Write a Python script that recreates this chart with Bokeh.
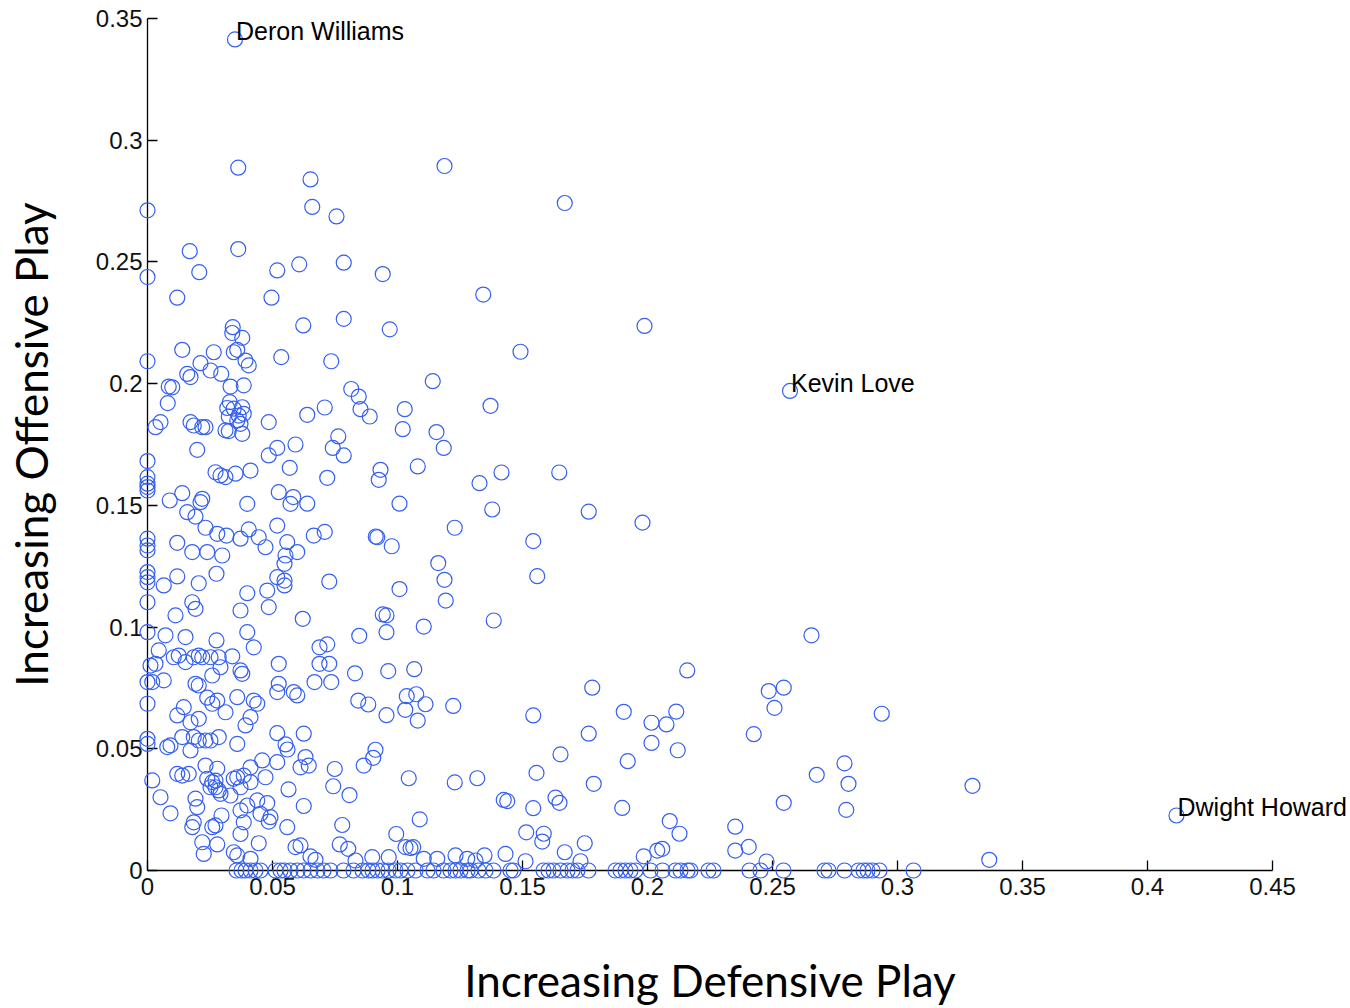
from bokeh.plotting import figure
from bokeh.models import Range1d, FixedTicker
from bokeh.embed import file_html
from bokeh.resources import INLINE
from bokeh.core.properties import value

# ---------------- data (defensive score, offensive score) ----------------
# labelled players
names = ["Deron Williams", "Kevin Love", "Dwight Howard"]
named_defensive = [0.0350, 0.2570, 0.4116]
named_offensive = [0.3414, 0.1970, 0.0226]

# upper / sparse part of the cloud
upper_pts = [
    (0.0363, 0.2887), (0.1188, 0.2894), (0.0652, 0.2839), (0.0659, 0.2726), (0.0756, 0.2687),
    (0.1669, 0.2742), (0.0000, 0.2712), (0.0169, 0.2544), (0.0363, 0.2553), (0.0000, 0.2438),
    (0.0207, 0.2458), (0.0519, 0.2465), (0.0607, 0.2490), (0.0785, 0.2497), (0.0941, 0.2450),
    (0.0119, 0.2353), (0.0496, 0.2353), (0.1343, 0.2366), (0.0341, 0.2232), (0.0623, 0.2239),
    (0.0785, 0.2266), (0.0969, 0.2223), (0.1988, 0.2237), (0.1492, 0.2131), (0.0735, 0.2092),
    (0.1141, 0.2010), (0.0815, 0.1978), (0.0845, 0.1947), (0.0852, 0.1895), (0.0889, 0.1865),
    (0.0709, 0.1902), (0.0639, 0.1872), (0.1029, 0.1895), (0.1021, 0.1813), (0.1156, 0.1801),
    (0.1185, 0.1736), (0.0763, 0.1783), (0.0741, 0.1736), (0.0785, 0.1705), (0.0592, 0.1750),
    (0.0719, 0.1613), (0.0932, 0.1646), (0.0925, 0.1605), (0.1081, 0.1660), (0.1008, 0.1507),
    (0.0639, 0.1507), (0.1372, 0.1909), (0.1416, 0.1635), (0.1647, 0.1635), (0.1328, 0.1591),
    (0.1379, 0.1483), (0.1765, 0.1474), (0.1980, 0.1429), (0.1543, 0.1353), (0.1559, 0.1209),
    (0.1385, 0.1027),
]

# dense left part, offensive 0.15 - 0.22
left_high_pts = [
    (0.0339, 0.2208), (0.0379, 0.2188), (0.0000, 0.2092), (0.0139, 0.2139), (0.0265, 0.2129),
    (0.0345, 0.2129), (0.0359, 0.2139), (0.0392, 0.2095), (0.0405, 0.2075), (0.0212, 0.2084),
    (0.0252, 0.2054), (0.0295, 0.2040), (0.0159, 0.2040), (0.0172, 0.2027), (0.0535, 0.2109),
    (0.0085, 0.1988), (0.0099, 0.1985), (0.0332, 0.1988), (0.0385, 0.1993), (0.0081, 0.1920),
    (0.0329, 0.1924), (0.0319, 0.1900), (0.0345, 0.1897), (0.0379, 0.1903), (0.0325, 0.1865),
    (0.0365, 0.1869), (0.0385, 0.1876), (0.0359, 0.1849), (0.0372, 0.1835), (0.0485, 0.1842),
    (0.0032, 0.1821), (0.0052, 0.1842), (0.0172, 0.1842), (0.0185, 0.1828), (0.0219, 0.1821),
    (0.0232, 0.1821), (0.0312, 0.1808), (0.0325, 0.1805), (0.0379, 0.1794), (0.0199, 0.1728),
    (0.0485, 0.1705), (0.0519, 0.1736), (0.0569, 0.1654), (0.0000, 0.1682), (0.0272, 0.1636),
    (0.0292, 0.1623), (0.0312, 0.1616), (0.0412, 0.1643), (0.0352, 0.1630), (0.0000, 0.1616),
    (0.0000, 0.1589), (0.0000, 0.1575), (0.0000, 0.1561), (0.0139, 0.1550), (0.0089, 0.1520),
    (0.0219, 0.1527), (0.0212, 0.1513), (0.0399, 0.1506), (0.0525, 0.1554), (0.0583, 0.1534),
    (0.0572, 0.1506),
]

# dense left part, offensive 0.075 - 0.15
left_mid_pts = [
    (0.0159, 0.1472), (0.0192, 0.1454), (0.0232, 0.1408), (0.0279, 0.1383), (0.0316, 0.1376),
    (0.0372, 0.1363), (0.0405, 0.1401), (0.0445, 0.1369), (0.0472, 0.1328), (0.0519, 0.1417),
    (0.0559, 0.1349), (0.0599, 0.1308), (0.0552, 0.1294), (0.0548, 0.1260), (0.0519, 0.1205),
    (0.0548, 0.1191), (0.0548, 0.1171), (0.0000, 0.1363), (0.0000, 0.1335), (0.0000, 0.1315),
    (0.0119, 0.1346), (0.0179, 0.1308), (0.0239, 0.1308), (0.0299, 0.1294), (0.0000, 0.1226),
    (0.0000, 0.1205), (0.0000, 0.1184), (0.0119, 0.1208), (0.0065, 0.1171), (0.0205, 0.1180),
    (0.0276, 0.1219), (0.0000, 0.1102), (0.0179, 0.1102), (0.0192, 0.1075), (0.0112, 0.1048),
    (0.0399, 0.1139), (0.0479, 0.1150), (0.0485, 0.1082), (0.0372, 0.1068), (0.0621, 0.1034),
    (0.0000, 0.0979), (0.0072, 0.0966), (0.0152, 0.0959), (0.0276, 0.0945), (0.0399, 0.0979),
    (0.0425, 0.0917), (0.0045, 0.0904), (0.0105, 0.0876), (0.0125, 0.0883), (0.0185, 0.0876),
    (0.0205, 0.0883), (0.0219, 0.0876), (0.0252, 0.0876), (0.0285, 0.0876), (0.0339, 0.0880),
    (0.0292, 0.0835), (0.0152, 0.0856), (0.0012, 0.0842), (0.0032, 0.0849), (0.0372, 0.0822),
    (0.0379, 0.0808), (0.0525, 0.0849), (0.0259, 0.0801), (0.0000, 0.0774), (0.0019, 0.0774),
    (0.0065, 0.0781), (0.0192, 0.0767), (0.0205, 0.0760), (0.0525, 0.0767),
]

# dense left part, offensive 0 - 0.075
left_low_pts = [
    (0.0000, 0.0685), (0.0119, 0.0637), (0.0145, 0.0671), (0.0205, 0.0623), (0.0172, 0.0609),
    (0.0239, 0.0710), (0.0259, 0.0685), (0.0279, 0.0698), (0.0312, 0.0650), (0.0359, 0.0712),
    (0.0425, 0.0698), (0.0439, 0.0685), (0.0519, 0.0733), (0.0585, 0.0733), (0.0392, 0.0596),
    (0.0412, 0.0630), (0.0599, 0.0719), (0.0625, 0.0562), (0.0519, 0.0564), (0.0000, 0.0541),
    (0.0000, 0.0520), (0.0079, 0.0507), (0.0092, 0.0514), (0.0172, 0.0493), (0.0139, 0.0548),
    (0.0185, 0.0548), (0.0205, 0.0534), (0.0232, 0.0534), (0.0252, 0.0534), (0.0285, 0.0548),
    (0.0359, 0.0520), (0.0552, 0.0518), (0.0560, 0.0497), (0.0232, 0.0431), (0.0279, 0.0418),
    (0.0119, 0.0397), (0.0139, 0.0390), (0.0165, 0.0397), (0.0359, 0.0383), (0.0345, 0.0377),
    (0.0239, 0.0377), (0.0259, 0.0363), (0.0272, 0.0369), (0.0252, 0.0342), (0.0272, 0.0342),
    (0.0285, 0.0329), (0.0292, 0.0315), (0.0412, 0.0424), (0.0459, 0.0452), (0.0385, 0.0390),
    (0.0332, 0.0308), (0.0412, 0.0363), (0.0472, 0.0383), (0.0372, 0.0342), (0.0019, 0.0370),
    (0.0052, 0.0301), (0.0092, 0.0235), (0.0185, 0.0198), (0.0179, 0.0178), (0.0259, 0.0178),
    (0.0272, 0.0185), (0.0192, 0.0295), (0.0199, 0.0260), (0.0372, 0.0247), (0.0399, 0.0267),
    (0.0439, 0.0288), (0.0479, 0.0277), (0.0452, 0.0233), (0.0492, 0.0219), (0.0485, 0.0201),
    (0.0385, 0.0198), (0.0296, 0.0226), (0.0219, 0.0116), (0.0225, 0.0068), (0.0279, 0.0107),
    (0.0372, 0.0150), (0.0445, 0.0112), (0.0345, 0.0075), (0.0359, 0.0062), (0.0412, 0.0048),
    (0.0559, 0.0178), (0.0592, 0.0096), (0.0625, 0.0265), (0.0519, 0.0445), (0.0564, 0.0333),
    (0.0652, 0.0058),
]

# middle part, defensive 0.06 - 0.13
middle_pts = [
    (0.0665, 0.1376), (0.0709, 0.1391), (0.0913, 0.1372), (0.0919, 0.1369), (0.0977, 0.1332),
    (0.1229, 0.1408), (0.1163, 0.1263), (0.1188, 0.1194), (0.1193, 0.1109), (0.0727, 0.1187),
    (0.1008, 0.1156), (0.0941, 0.1052), (0.0956, 0.1048), (0.0956, 0.0979), (0.0847, 0.0964),
    (0.1105, 0.1002), (0.0688, 0.0917), (0.0719, 0.0929), (0.0688, 0.0849), (0.0727, 0.0849),
    (0.0668, 0.0774), (0.0735, 0.0774), (0.0830, 0.0810), (0.0963, 0.0819), (0.1067, 0.0827),
    (0.0843, 0.0698), (0.0883, 0.0682), (0.0956, 0.0638), (0.1037, 0.0716), (0.1075, 0.0724),
    (0.1112, 0.0683), (0.1031, 0.0660), (0.1081, 0.0616), (0.1223, 0.0676), (0.0632, 0.0466),
    (0.0645, 0.0431), (0.0612, 0.0424), (0.0912, 0.0496), (0.0903, 0.0463), (0.0865, 0.0431),
    (0.0749, 0.0417), (0.0743, 0.0346), (0.0808, 0.0310), (0.1045, 0.0379), (0.1229, 0.0362),
    (0.0779, 0.0187), (0.1089, 0.0210), (0.0995, 0.0150), (0.0769, 0.0107), (0.0803, 0.0089),
    (0.1032, 0.0096), (0.1052, 0.0092), (0.1063, 0.0096), (0.0612, 0.0103), (0.0672, 0.0044),
    (0.0832, 0.0041), (0.0899, 0.0055), (0.0965, 0.0055), (0.1105, 0.0048), (0.1159, 0.0048),
    (0.1232, 0.0062),
]

# right-middle part, defensive 0.125 - 0.225
right_mid_pts = [
    (0.2159, 0.0822), (0.1779, 0.0751), (0.1905, 0.0652), (0.2115, 0.0653), (0.2016, 0.0607),
    (0.2076, 0.0600), (0.1543, 0.0637), (0.1765, 0.0562), (0.2016, 0.0524), (0.2121, 0.0494),
    (0.1652, 0.0477), (0.1921, 0.0449), (0.1556, 0.0401), (0.1319, 0.0379), (0.1785, 0.0356),
    (0.1425, 0.0290), (0.1439, 0.0285), (0.1632, 0.0299), (0.1648, 0.0278), (0.1543, 0.0256),
    (0.1899, 0.0257), (0.2089, 0.0203), (0.2128, 0.0151), (0.1515, 0.0157), (0.1585, 0.0151),
    (0.1579, 0.0119), (0.1749, 0.0112), (0.1669, 0.0075), (0.1432, 0.0068), (0.1348, 0.0062),
    (0.1512, 0.0038), (0.2039, 0.0082), (0.2059, 0.0089), (0.1985, 0.0058), (0.1732, 0.0038),
    (0.1279, 0.0048), (0.1312, 0.0041),
]

# far right part, defensive > 0.23
right_pts = [
    (0.2656, 0.0966), (0.2485, 0.0737), (0.2545, 0.0751), (0.2508, 0.0668), (0.2937, 0.0644),
    (0.2425, 0.0560), (0.2788, 0.0440), (0.2677, 0.0393), (0.2804, 0.0356), (0.3300, 0.0348),
    (0.2545, 0.0278), (0.2795, 0.0249), (0.2351, 0.0180), (0.2351, 0.0082), (0.2405, 0.0097),
    (0.2476, 0.0037), (0.3367, 0.0044),
]

# players with zero offensive score
zero_offense_defensive = [
    0.0356, 0.0376, 0.0392, 0.0412, 0.0432, 0.0452, 0.0512, 0.0532, 0.0548, 0.0572,
    0.0600, 0.0624, 0.0652, 0.0680, 0.0704, 0.0732, 0.0784, 0.0824, 0.0860, 0.0884,
    0.0900, 0.0920, 0.0940, 0.0964, 0.0992, 0.1012, 0.1040, 0.1072, 0.1120, 0.1144,
    0.1184, 0.1212, 0.1232, 0.1252, 0.1280, 0.1292, 0.1324, 0.1352, 0.1384, 0.1452,
    0.1464, 0.1584, 0.1604, 0.1624, 0.1652, 0.1680, 0.1700, 0.1720, 0.1764, 0.1872,
    0.1892, 0.1912, 0.1932, 0.1952, 0.2012, 0.2060, 0.2112, 0.2132, 0.2160, 0.2172,
    0.2244, 0.2264, 0.2408, 0.2452, 0.2544, 0.2708, 0.2724, 0.2788, 0.2844, 0.2864,
    0.2880, 0.2900, 0.2928, 0.3064,
]
zero_offense_offensive = [
    0.0, 0.0, 0.0, 0.0, 0.0, 0.0, 0.0, 0.0, 0.0, 0.0,
    0.0, 0.0, 0.0, 0.0, 0.0, 0.0, 0.0, 0.0, 0.0, 0.0,
    0.0, 0.0, 0.0, 0.0, 0.0, 0.0, 0.0, 0.0, 0.0, 0.0,
    0.0, 0.0, 0.0, 0.0, 0.0, 0.0, 0.0, 0.0, 0.0, 0.0,
    0.0, 0.0, 0.0, 0.0, 0.0, 0.0, 0.0, 0.0, 0.0, 0.0,
    0.0, 0.0, 0.0, 0.0, 0.0, 0.0, 0.0, 0.0, 0.0, 0.0,
    0.0, 0.0, 0.0, 0.0, 0.0, 0.0, 0.0, 0.0, 0.0, 0.0,
    0.0, 0.0, 0.0, 0.0,
]

x_ticks = [0, 0.05, 0.1, 0.15, 0.2, 0.25, 0.3, 0.35, 0.4, 0.45]
x_tick_labels = ["0", "0.05", "0.1", "0.15", "0.2", "0.25", "0.3", "0.35", "0.4", "0.45"]
y_ticks = [0, 0.05, 0.1, 0.15, 0.2, 0.25, 0.3, 0.35]
y_tick_labels = ["0", "0.05", "0.1", "0.15", "0.2", "0.25", "0.3", "0.35"]

# ---------------- assemble ----------------
all_pts = upper_pts + left_high_pts + left_mid_pts + left_low_pts + middle_pts + right_mid_pts + right_pts
defensive = [d for d, o in all_pts] + zero_offense_defensive + named_defensive
offensive = [o for d, o in all_pts] + zero_offense_offensive + named_offensive

BLUE = "#3560f0"
TICK_FONT = "Liberation Sans"
TITLE_FONT = "Lato"

p = figure(width=1350, height=1008, output_backend="svg", toolbar_location=None,
           x_range=Range1d(0, 0.45), y_range=Range1d(0, 0.35),
           min_border_left=147, min_border_right=78, min_border_top=18, min_border_bottom=138)
p.outline_line_color = None
p.xgrid.visible = False
p.ygrid.visible = False
p.background_fill_color = "white"
p.border_fill_color = "white"

p.scatter(defensive, offensive, marker="circle", size=15, fill_color=None,
          line_color=BLUE, line_width=1.2, level="overlay")

p.text(x=named_defensive, y=named_offensive, text=names,
       text_font=value(TICK_FONT), text_font_size="25px", text_color="black",
       text_align="left", text_baseline="alphabetic", x_offset=1, y_offset=-8, level="overlay")

for ax, ticks, labels in ((p.xaxis[0], x_ticks, x_tick_labels), (p.yaxis[0], y_ticks, y_tick_labels)):
    ax.ticker = FixedTicker(ticks=ticks)
    ax.major_label_overrides = {t: l for t, l in zip(ticks, labels)}
    ax.major_tick_in = 10
    ax.major_tick_out = 0
    ax.minor_tick_in = 0
    ax.minor_tick_out = 0
    ax.major_tick_line_color = "black"
    ax.major_tick_line_width = 1.3
    ax.axis_line_color = "black"
    ax.axis_line_width = 1.3
    ax.major_label_text_font = TICK_FONT
    ax.major_label_text_font_size = "24px"
    ax.major_label_text_color = "#111111"
    ax.axis_label_text_font = TITLE_FONT
    ax.axis_label_text_font_size = "44px"
    ax.axis_label_text_font_style = "normal"
    ax.axis_label_text_color = "black"

p.xaxis[0].axis_label = "Increasing Defensive Play"
p.xaxis[0].major_label_standoff = 7
p.xaxis[0].axis_label_standoff = 56
p.yaxis[0].axis_label = "Increasing Offensive Play"
p.yaxis[0].major_label_standoff = 5
p.yaxis[0].axis_label_standoff = 36

open("out.html", "w").write(file_html(p, INLINE))
